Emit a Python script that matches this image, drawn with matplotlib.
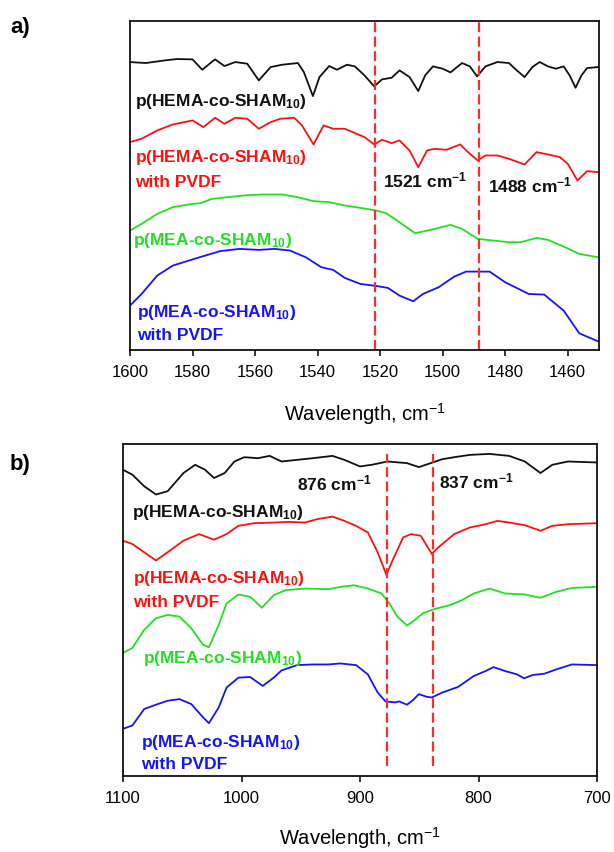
import matplotlib
matplotlib.use("Agg")
import matplotlib.pyplot as plt

plt.rcParams['font.family'] = ['Liberation Sans', 'DejaVu Sans']
plt.rcParams['mathtext.fontset'] = 'custom'
plt.rcParams['mathtext.rm'] = 'Liberation Sans'
plt.rcParams['mathtext.bf'] = 'Liberation Sans:bold'
plt.rcParams['mathtext.it'] = 'Liberation Sans:italic'

# ---------------- panel a data (1600-1450 cm-1) ----------------
a_black_x = [1600, 1595, 1588.8, 1585, 1580, 1576.9, 1572.8, 1569.8, 1566.3, 1562.5, 1558.8, 1555,
             1551.3, 1546.3, 1544.4, 1541.5, 1539.4, 1536.3, 1533.8, 1530.6, 1528.1, 1525, 1521.9,
             1519.4, 1516.3, 1513.8, 1510.6, 1507.8, 1505.6, 1503.1, 1500, 1497.5, 1493.8, 1491.3,
             1489, 1486.3, 1482.5, 1478.8, 1476.3, 1473.8, 1471.3, 1469, 1466.3, 1463.8, 1461.3,
             1459.4, 1457.5, 1455.6, 1453.8, 1450.3]
a_black_y = [86.3, 86.0, 86.8, 87.2, 87.1, 84.0, 87.1, 85.1, 86.3, 85.8, 80.8, 84.8, 85.5, 86.0,
             83.3, 76.1, 81.8, 85.1, 84.0, 85.5, 85.0, 82.3, 79.0, 81.1, 81.6, 83.8, 81.8, 77.6,
             82.3, 85.0, 84.3, 83.2, 86.0, 85.0, 82.0, 85.0, 86.3, 86.0, 83.8, 81.8, 84.8, 86.3,
             85.0, 84.3, 85.0, 82.3, 78.6, 82.3, 84.5, 84.8]

a_red_x = [1600, 1596.3, 1591.3, 1586.3, 1580, 1576.5, 1572.8, 1569.8, 1566.3, 1562.5, 1558.8, 1555,
           1551.9, 1547.5, 1545, 1541.3, 1538.1, 1535, 1531.3, 1528.8, 1525, 1521.9, 1519.4, 1516.3,
           1513.8, 1510.6, 1507.8, 1505, 1502.5, 1498.8, 1494.4, 1491.9, 1488.8, 1486.3, 1482.5,
           1478.8, 1473.8, 1470, 1466.3, 1462.5, 1460, 1456.9, 1453.8, 1450.3]
a_red_y = [62.3, 63.3, 65.8, 67.6, 68.8, 66.8, 69.6, 67.8, 69.6, 69.3, 66.3, 68.3, 69.3, 69.6,
           67.3, 61.6, 67.3, 66.3, 66.3, 65.3, 63.8, 61.6, 63.0, 62.0, 62.8, 59.8, 54.8, 59.8,
           60.3, 60.0, 61.6, 59.3, 56.8, 58.3, 58.3, 57.3, 55.6, 59.3, 58.6, 57.8, 55.8, 50.8,
           53.6, 53.3]

a_green_x = [1600, 1596.3, 1591.3, 1586.3, 1580, 1577.5, 1573.8, 1568.8, 1563.8, 1557.5, 1551.3,
             1546.3, 1541.3, 1536.3, 1531.3, 1526.3, 1521.3, 1518.1, 1513.8, 1508.8, 1503.8,
             1497.5, 1493.8, 1488.8, 1483.8, 1478.8, 1475, 1470, 1466.3, 1461.3, 1456.3, 1450.3]
a_green_y = [35.8, 37.8, 40.8, 42.8, 43.8, 44.0, 45.3, 45.8, 46.3, 46.6, 46.6, 45.8, 44.6, 44.3,
             43.3, 42.6, 41.8, 41.0, 38.3, 35.0, 36.0, 37.5, 36.3, 33.3, 32.8, 32.3, 32.3, 33.6,
             33.0, 31.0, 28.8, 27.8]

a_blue_x = [1600, 1596.3, 1591.3, 1586.3, 1578.8, 1571.3, 1565, 1558.8, 1553.8, 1548.8, 1543.8,
            1538.8, 1535, 1531.3, 1526.3, 1521.3, 1517.5, 1513.8, 1509.4, 1506.3, 1501.3, 1496.3,
            1492.5, 1488.8, 1485, 1480, 1472.5, 1467.5, 1461.3, 1456.3, 1450.3]
a_blue_y = [13.3, 16.8, 22.3, 25.3, 27.5, 29.6, 30.3, 30.0, 30.3, 29.8, 27.8, 24.8, 24.0, 21.6,
            19.8, 19.2, 18.6, 16.3, 14.6, 16.8, 18.8, 22.0, 23.5, 23.5, 23.5, 20.3, 16.8, 16.6,
            11.8, 5.0, 2.6]

a_marks = [1521.6, 1488.3]
a_mark_labels = ['1521 cm$^{\\mathbf{-1}}$', '1488 cm$^{\\mathbf{-1}}$']
a_ticks = [1600, 1580, 1560, 1540, 1520, 1500, 1480, 1460]

# ---------------- panel b data (1100-700 cm-1) ----------------
b_black_x = [1100, 1092.1, 1082.1, 1072.2, 1062.3, 1049.0, 1039.1, 1030.8, 1023.2, 1014.2, 1006.0,
             997.7, 986.1, 976.2, 966.2, 953.0, 939.7, 923.2, 913.2, 900.0, 890.1, 876.8, 860.3,
             850.3, 840.4, 830.5, 820.5, 807.3, 790.7, 774.2, 760.9, 747.7, 737.7, 724.5, 700]
b_black_y = [92.8, 91.3, 87.8, 85.3, 86.3, 91.8, 94.3, 92.8, 90.3, 91.8, 95.3, 96.6, 96.3, 97.0,
             95.3, 95.8, 96.3, 97.0, 95.8, 93.8, 94.3, 95.3, 94.8, 93.6, 94.8, 96.0, 96.6, 97.3,
             97.6, 97.0, 95.3, 91.8, 94.3, 95.3, 95.0]

b_red_x = [1100, 1092.1, 1082.1, 1072.2, 1062.3, 1049.0, 1035.8, 1023.2, 1012.6, 1002.6, 989.4,
           972.8, 959.6, 946.4, 936.4, 923.2, 913.2, 903.3, 893.4, 885.1, 877.8, 871.9, 863.6,
           856.9, 848.7, 843.7, 839.4, 833.8, 820.5, 807.3, 794.0, 784.1, 774.2, 760.9, 747.7,
           737.7, 724.5, 700]
b_red_y = [71.3, 70.3, 67.8, 65.3, 67.8, 71.3, 73.3, 71.6, 73.3, 75.8, 76.6, 76.8, 77.0, 76.8,
           77.8, 78.6, 77.3, 75.8, 73.8, 67.8, 61.0, 65.8, 72.3, 73.3, 72.8, 69.8, 67.3, 69.3,
           73.3, 75.3, 76.3, 77.3, 76.8, 76.0, 74.3, 75.8, 76.3, 76.6]

b_green_x = [1100, 1092.1, 1082.1, 1072.2, 1062.3, 1052.3, 1042.4, 1032.5, 1027.5, 1019.2, 1012.6,
             1002.6, 992.7, 982.8, 972.8, 962.9, 946.4, 926.5, 916.6, 905.0, 893.4, 881.8, 875.2,
             868.5, 860.3, 853.6, 847.0, 837.1, 823.8, 813.9, 804.0, 790.7, 777.5, 760.9, 747.7,
             734.4, 721.2, 700]
b_green_y = [37.3, 38.8, 44.3, 47.8, 48.8, 48.3, 44.8, 39.8, 39.0, 45.8, 52.3, 55.0, 54.3, 51.0,
             54.8, 56.3, 56.8, 56.6, 57.3, 57.8, 56.8, 55.3, 52.3, 48.3, 45.6, 47.3, 49.3, 50.6,
             51.8, 53.3, 55.3, 56.8, 55.3, 55.0, 54.0, 55.8, 57.0, 57.3]

b_blue_x = [1100, 1092.1, 1082.1, 1072.2, 1062.3, 1052.3, 1042.4, 1032.5, 1027.5, 1019.2, 1012.6,
            1002.6, 992.7, 982.1, 972.8, 966.2, 953.0, 939.7, 926.5, 916.6, 903.3, 893.4, 885.1,
            878.5, 870.2, 866.9, 860.3, 855.3, 850.3, 843.7, 839.4, 830.5, 817.2, 804.0, 794.0,
            787.4, 777.5, 767.5, 761.6, 754.3, 744.4, 734.4, 721.2, 700]
b_blue_y = [14.3, 15.3, 20.3, 21.6, 22.8, 23.3, 21.8, 17.8, 16.0, 20.8, 26.8, 29.8, 30.0, 27.3,
            29.8, 32.0, 33.6, 33.8, 33.8, 34.1, 33.6, 30.8, 25.3, 22.6, 22.3, 22.6, 21.6, 23.0,
            24.8, 24.0, 23.8, 25.3, 27.0, 30.3, 31.8, 33.0, 31.8, 30.8, 29.6, 30.6, 31.0, 32.3,
            33.8, 33.6]

b_marks = [877.5, 838.5]
b_mark_labels = ['876 cm$^{\\mathbf{-1}}$', '837 cm$^{\\mathbf{-1}}$']
b_ticks = [1100, 1000, 900, 800, 700]

names = ['p(HEMA-co-SHAM$_{\\mathbf{10}}$)', 'p(HEMA-co-SHAM$_{\\mathbf{10}}$)\nwith PVDF',
         'p(MEA-co-SHAM$_{\\mathbf{10}}$)', 'p(MEA-co-SHAM$_{\\mathbf{10}}$)\nwith PVDF']

C_BLACK = '#111111'
C_RED = '#ff1010'
C_GREEN = '#22e022'
C_BLUE = '#1414ff'
C_DASH = '#ff2a2a'

W, H = 614, 853
fig = plt.figure(figsize=(W / 100, H / 100), dpi=100)


def px_axes(l, t, r, b):
    return fig.add_axes([l / W, 1 - b / H, (r - l) / W, (b - t) / H])


def ftext(x, y, s, color, size=12.5, weight='bold'):
    fig.text(x / W, 1 - y / H, s, color=color, fontsize=size, fontweight=weight,
             ha='left', va='baseline')


def style(ax, ticks, xlim, ylim, labelpad):
    ax.set_xlim(*xlim)
    ax.set_ylim(*ylim)
    ax.set_xticks(ticks)
    ax.set_yticks([])
    ax.tick_params(axis='x', direction='out', length=4, width=1.1, labelsize=12, pad=6)
    for sp in ax.spines.values():
        sp.set_linewidth(1.3)
        sp.set_color('#111111')
    ax.set_xlabel('Wavelength, cm$^{-1}$', fontsize=14.5, labelpad=labelpad)


lw = 1.3
line_kw = dict(lw=lw, solid_joinstyle='round', solid_capstyle='round')

# ---- panel a ----
axa = px_axes(130, 22, 599, 351)
axa.plot(a_black_x, a_black_y, color=C_BLACK, **line_kw)
axa.plot(a_red_x, a_red_y, color=C_RED, **line_kw)
axa.plot(a_green_x, a_green_y, color=C_GREEN, **line_kw)
axa.plot(a_blue_x, a_blue_y, color=C_BLUE, **line_kw)
for m in a_marks:
    axa.axvline(m, color=C_DASH, lw=1.6, linestyle=(0, (4.5, 2.0)))
style(axa, a_ticks, (1600, 1450), (0, 98.6), 15)

# ---- panel b ----
axb = px_axes(123, 445, 597, 777)
axb.plot(b_black_x, b_black_y, color=C_BLACK, **line_kw)
axb.plot(b_red_x, b_red_y, color=C_RED, **line_kw)
axb.plot(b_green_x, b_green_y, color=C_GREEN, **line_kw)
axb.plot(b_blue_x, b_blue_y, color=C_BLUE, **line_kw)
for m in b_marks:
    axb.axvline(m, ymin=0.03, ymax=0.97, color=C_DASH, lw=1.6, linestyle=(0, (4.5, 2.0)))
style(axb, b_ticks, (1100, 700), (0, 100.6), 14)

# panel letters
fig.text(10 / W, 1 - 33 / H, 'a)', fontsize=16, fontweight='bold', ha='left', va='baseline')
fig.text(10 / W, 1 - 470 / H, 'b)', fontsize=16, fontweight='bold', ha='left', va='baseline')

# panel a labels
ftext(135, 106, names[0], C_BLACK)
ftext(135, 162, names[1].split('\n')[0], C_RED)
ftext(135, 187, names[1].split('\n')[1], C_RED)
ftext(133, 245, names[2], C_GREEN)
ftext(137, 317, names[3].split('\n')[0], C_BLUE)
ftext(137, 340, names[3].split('\n')[1], C_BLUE)
ftext(383, 187, a_mark_labels[0], C_BLACK)
ftext(488, 192, a_mark_labels[1], C_BLACK)

# panel b labels
ftext(132, 517, names[0], C_BLACK)
ftext(133, 583, names[1].split('\n')[0], C_RED)
ftext(133, 607, names[1].split('\n')[1], C_RED)
ftext(143, 663, names[2], C_GREEN)
ftext(141, 747, names[3].split('\n')[0], C_BLUE)
ftext(141, 769, names[3].split('\n')[1], C_BLUE)
ftext(297, 490, b_mark_labels[0], C_BLACK)
ftext(439, 488, b_mark_labels[1], C_BLACK)

fig.savefig('out.png', dpi=100)
